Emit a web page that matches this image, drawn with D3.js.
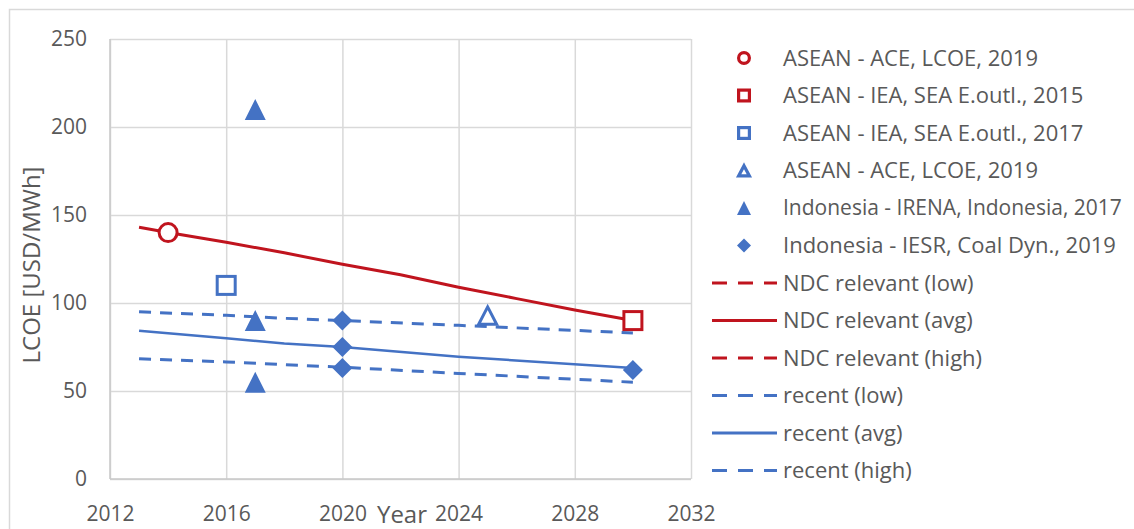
<!DOCTYPE html>
<html>
<head>
<meta charset="utf-8">
<script src="https://cdn.jsdelivr.net/npm/d3@7"></script>
<style>
  html, body { margin: 0; padding: 0; background: #fff; }
  svg { display: block; }
  text { font-family: "Open Sans", "Noto Sans", sans-serif; fill: #595959; }
</style>
</head>
<body>
<svg id="chart" width="1134" height="529"></svg>
<script>
// ---- data ----
const xTicks = [2012, 2016, 2020, 2024, 2028, 2032];
const yTicks = [0, 50, 100, 150, 200, 250];

const aseanAceCircle = [{ year: 2014, value: 140 }];
const aseanIea2015 = [{ year: 2030, value: 90 }];
const aseanIea2017 = [{ year: 2016, value: 110 }];
const aseanAceTriangle = [{ year: 2025, value: 93 }];
const irena2017 = [{ year: 2017, value: 210 }, { year: 2017, value: 90 }, { year: 2017, value: 55 }];
const iesr2019 = [{ year: 2020, value: 90 }, { year: 2020, value: 75 }, { year: 2020, value: 63 }, { year: 2030, value: 62 }];

const ndcYears = [2013, 2014, 2016, 2018, 2020, 2022, 2024, 2026, 2028, 2030];
const ndcLow = [];
const ndcAvg = [143, 140, 134.5, 128.5, 122, 116, 109, 102.5, 96, 90];
const ndcHigh = [];

const recentYears = [2013, 2016, 2018, 2020, 2024, 2030];
const recentLow = [95, 93, 91.3, 90, 87.3, 83];
const recentAvg = [84.3, 80, 77, 75, 69.5, 63];
const recentHigh = [68.3, 66.5, 65, 63.5, 60, 55];

const legendLabels = [
  "ASEAN - ACE, LCOE, 2019",
  "ASEAN - IEA, SEA E.outl., 2015",
  "ASEAN - IEA, SEA E.outl., 2017",
  "ASEAN - ACE, LCOE, 2019",
  "Indonesia - IRENA, Indonesia, 2017",
  "Indonesia - IESR, Coal Dyn., 2019",
  "NDC relevant (low)",
  "NDC relevant (avg)",
  "NDC relevant (high)",
  "recent (low)",
  "recent (avg)",
  "recent (high)"
];

// ---- styles ----
const RED = "#C0141E";
const BLUE = "#4472C4";
const GRID = "#d9d9d9";

const svg = d3.select("#chart");

// outer frame
svg.append("path").attr("d", "M9.5,529 L9.5,9.5 L1134,9.5")
  .attr("fill", "none").attr("stroke", GRID).attr("stroke-width", 1.5);

const plot = { left: 110, right: 691, top: 39, bottom: 479 };
const x = d3.scaleLinear().domain([2012, 2032]).range([plot.left, plot.right]);
const y = d3.scaleLinear().domain([0, 250]).range([plot.bottom, plot.top]);

// gridlines
const gx = svg.append("g").attr("transform", `translate(0,${plot.bottom})`)
  .call(d3.axisBottom(x).tickValues(xTicks).tickSize(-(plot.bottom - plot.top)).tickFormat(""));
gx.select(".domain").remove();
gx.selectAll("line").attr("stroke", GRID).attr("stroke-width", 1.5);

const gy = svg.append("g").attr("transform", `translate(${plot.left},0)`)
  .call(d3.axisLeft(y).tickValues(yTicks).tickSize(-(plot.right - plot.left)).tickFormat(""));
gy.select(".domain").remove();
gy.selectAll("line").attr("stroke", GRID).attr("stroke-width", 1.5);

// axis lines
svg.append("line").attr("x1", plot.left).attr("x2", plot.left).attr("y1", plot.top).attr("y2", plot.bottom)
  .attr("stroke", "#c8c8c8").attr("stroke-width", 1.5);
svg.append("line").attr("x1", plot.left).attr("x2", plot.right).attr("y1", plot.bottom).attr("y2", plot.bottom)
  .attr("stroke", "#c8c8c8").attr("stroke-width", 1.5);

// tick labels
const xa = svg.append("g").attr("transform", `translate(0,${plot.bottom})`)
  .call(d3.axisBottom(x).tickValues(xTicks).tickSize(0).tickPadding(0).tickFormat(d3.format("d")));
xa.select(".domain").remove();
xa.selectAll("text").attr("y", 42).attr("dy", 0).style("font-size", "21px").attr("fill", "#595959")
  .style("font-family", "'Open Sans', sans-serif");

const ya = svg.append("g").attr("transform", `translate(${plot.left},0)`)
  .call(d3.axisLeft(y).tickValues(yTicks).tickSize(0).tickPadding(23).tickFormat(d3.format("d")));
ya.select(".domain").remove();
ya.selectAll("text").style("font-size", "21px").attr("fill", "#595959")
  .style("font-family", "'Open Sans', sans-serif");

// axis titles
svg.append("text").attr("x", 402).attr("y", 523).attr("text-anchor", "middle")
  .style("font-size", "24px").text("Year");
svg.append("text").attr("transform", "translate(40,265) rotate(-90)").attr("text-anchor", "middle")
  .style("font-size", "24px").text("LCOE [USD/MWh]");

// lines
const line = d3.line().x(d => x(d[0])).y(d => y(d[1]));
function drawLine(years, vals, color, dashed, width) {
  if (!vals.length) return;
  svg.append("path").datum(years.map((yr, i) => [yr, vals[i]]))
    .attr("d", line).attr("fill", "none").attr("stroke", color)
    .attr("stroke-width", width)
    .attr("stroke-dasharray", dashed ? "12,9" : null);
}
drawLine(ndcYears, ndcLow, RED, true, 3);
drawLine(ndcYears, ndcAvg, RED, false, 3);
drawLine(ndcYears, ndcHigh, RED, true, 3);
drawLine(recentYears, recentLow, BLUE, true, 3);
drawLine(recentYears, recentAvg, BLUE, false, 2.5);
drawLine(recentYears, recentHigh, BLUE, true, 3);

// markers
function marker(g, type, size, color, sw) {
  const r = size / 2;
  const h = sw / 2;
  if (type === "circle") {
    g.append("circle").attr("r", r - h).attr("fill", "#fff").attr("stroke", color).attr("stroke-width", sw);
  } else if (type === "square") {
    g.append("rect").attr("x", -r + h).attr("y", -r + h).attr("width", size - sw).attr("height", size - sw)
      .attr("fill", "#fff").attr("stroke", color).attr("stroke-width", sw);
  } else if (type === "triOpen") {
    g.append("path").attr("d", `M0,${-r + sw * 0.7} L${r - h},${r - h} L${-r + h},${r - h}Z`)
      .attr("fill", "#fff").attr("stroke", color).attr("stroke-width", sw).attr("stroke-linejoin", "miter");
  } else if (type === "tri") {
    g.append("path").attr("d", `M0,${-r} L${r},${r} L${-r},${r}Z`).attr("fill", color);
  } else if (type === "diamond") {
    g.append("path").attr("d", `M0,${-r} L${r},0 L0,${r} L${-r},0Z`).attr("fill", color);
  }
}
const series = [
  { data: aseanAceCircle, type: "circle", color: RED },
  { data: aseanIea2015, type: "square", color: RED },
  { data: aseanIea2017, type: "square", color: BLUE },
  { data: aseanAceTriangle, type: "triOpen", color: BLUE },
  { data: irena2017, type: "tri", color: BLUE },
  { data: iesr2019, type: "diamond", color: BLUE }
];
series.forEach(s => {
  s.data.forEach(d => {
    const g = svg.append("g").attr("transform", `translate(${x(d.year)},${y(d.value)})`);
    marker(g, s.type, s.type === "diamond" ? 20 : 21, s.color, 3);
  });
});

// legend
const legendItems = [
  { kind: "m", type: "circle", color: RED },
  { kind: "m", type: "square", color: RED },
  { kind: "m", type: "square", color: BLUE },
  { kind: "m", type: "triOpen", color: BLUE },
  { kind: "m", type: "tri", color: BLUE },
  { kind: "m", type: "diamond", color: BLUE },
  { kind: "l", dashed: true, color: RED },
  { kind: "l", dashed: false, color: RED },
  { kind: "l", dashed: true, color: RED },
  { kind: "l", dashed: true, color: BLUE },
  { kind: "l", dashed: false, color: BLUE },
  { kind: "l", dashed: true, color: BLUE }
];
const lg = svg.append("g");
const legendTextX = 783, legendMaxRight = 1122, legendFont = 22;
legendItems.forEach((it, i) => {
  const cy = 58 + i * 37.5;
  const g = lg.append("g").attr("transform", `translate(0,${cy})`);
  if (it.kind === "m") {
    const mg = g.append("g").attr("transform", "translate(744,0)");
    marker(mg, it.type, 14, it.color, 3.2);
  } else {
    g.append("line").attr("x1", 712).attr("x2", 777).attr("y1", 0).attr("y2", 0)
      .attr("stroke", it.color).attr("stroke-width", 3)
      .attr("stroke-dasharray", it.dashed ? "15,11" : null);
  }
  const t = g.append("text").attr("x", legendTextX).attr("y", 0).attr("dy", "0.35em")
    .style("font-size", legendFont + "px").text(legendLabels[i]);
  const w = t.node().getComputedTextLength();
  if (legendTextX + w > legendMaxRight) {
    const fs = legendFont * (legendMaxRight - legendTextX) / w;
    t.style("font-size", fs.toFixed(2) + "px");
  }
});
</script>
</body>
</html>
